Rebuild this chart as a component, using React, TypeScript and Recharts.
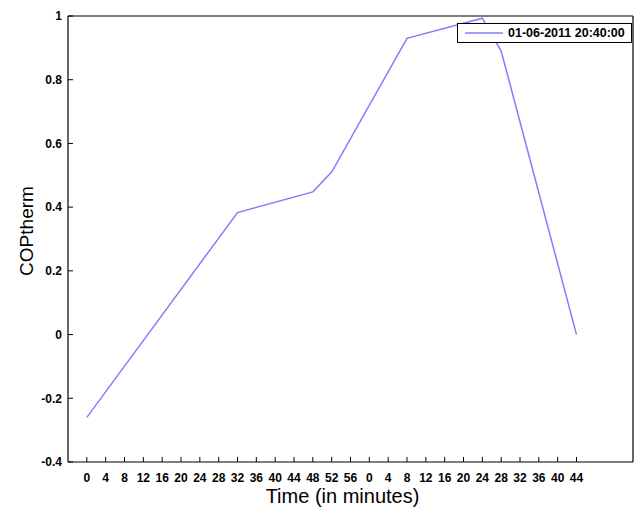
import React from 'react';
import { LineChart, Line, XAxis, YAxis, Legend } from 'recharts';

// elapsed minutes since 20:40 and the COPtherm reading at each kink
const elapsedMinutes = [0, 32, 48, 52, 68, 84, 88, 104];
const copTherm = [-0.26, 0.383, 0.448, 0.51, 0.93, 0.993, 0.89, 0.0];

const timeTicks = [
  0, 4, 8, 12, 16, 20, 24, 28, 32, 36, 40, 44, 48, 52, 56,
  60, 64, 68, 72, 76, 80, 84, 88, 92, 96, 100, 104,
];
const timeTickLabels = [
  '0', '4', '8', '12', '16', '20', '24', '28', '32', '36', '40', '44', '48', '52', '56',
  '0', '4', '8', '12', '16', '20', '24', '28', '32', '36', '40', '44',
];
const copTicks = [-0.4, -0.2, 0, 0.2, 0.4, 0.6, 0.8, 1];

const seriesName = '01-06-2011 20:40:00';
const lineColor = '#7f7fff';
const font = '"Liberation Sans", Arial, Helvetica, sans-serif';

const data = elapsedMinutes.map((m, i) => ({ minute: m, cop: copTherm[i] }));

const tickStyle = { fill: '#000', fontSize: 12, fontWeight: 700, fontFamily: font };
const axisLine = { stroke: '#000', strokeWidth: 1.2 };
const tickLine = { stroke: '#000', strokeWidth: 1 };

const LegendBox = ({ payload }: any) => {
  const item = payload && payload[0];
  return (
    <div
      style={{
        boxSizing: 'border-box',
        width: 175,
        height: 20,
        border: '1px solid #000',
        background: '#fff',
        display: 'flex',
        alignItems: 'center',
        paddingLeft: 7,
        fontFamily: font,
        fontSize: 12.5,
        fontWeight: 700,
        color: '#000',
      }}
    >
      <svg width={38} height={4} style={{ marginRight: 5 }}>
        <line x1={0} y1={2} x2={38} y2={2} stroke={item ? item.color : lineColor} strokeWidth={1.5} />
      </svg>
      <span>{item ? item.value : seriesName}</span>
    </div>
  );
};

export default function App() {
  return (
    <div style={{ position: 'absolute', left: 0, top: 0, width: 638, height: 511, background: '#fff' }}>
      <LineChart width={638} height={511} data={data} margin={{ top: 15, right: 4, bottom: 0, left: 0 }}>
        <XAxis
          xAxisId="bottom"
          type="number"
          dataKey="minute"
          domain={[-4, 116]}
          ticks={timeTicks}
          interval={0}
          tickFormatter={(v: number) => timeTickLabels[timeTicks.indexOf(v)] ?? ''}
          height={49}
          tickSize={-5}
          tickMargin={16}
          tick={tickStyle}
          axisLine={axisLine}
          tickLine={tickLine}
          label={{
            content: ({ viewBox }: any) => (
              <text
                x={viewBox.x + viewBox.width / 2 - 8}
                y={viewBox.y + viewBox.height - 8}
                textAnchor="middle"
                fontFamily={font}
                fontSize={20}
                fill="#000"
              >
                Time (in minutes)
              </text>
            ),
          }}
        />
        <XAxis
          xAxisId="top"
          orientation="top"
          type="number"
          dataKey="minute"
          domain={[-4, 116]}
          ticks={timeTicks}
          interval={0}
          height={1}
          tickSize={-5}
          tick={false}
          axisLine={axisLine}
          tickLine={tickLine}
        />
        <YAxis
          yAxisId="left"
          type="number"
          domain={[-0.4, 1]}
          ticks={copTicks}
          interval={0}
          width={68}
          tickSize={-5}
          tickMargin={11}
          tick={tickStyle}
          tickFormatter={(v: number) => `${Math.round(v * 10) / 10}`}
          axisLine={axisLine}
          tickLine={tickLine}
          label={{
            content: ({ viewBox }: any) => {
              const cx = viewBox.x + 33;
              const cy = viewBox.y + viewBox.height / 2 - 8;
              return (
                <text
                  x={cx}
                  y={cy}
                  transform={`rotate(-90 ${cx} ${cy})`}
                  textAnchor="middle"
                  fontFamily={font}
                  fontSize={19}
                  fill="#000"
                >
                  COPtherm
                </text>
              );
            },
          }}
        />
        <YAxis
          yAxisId="right"
          orientation="right"
          type="number"
          domain={[-0.4, 1]}
          ticks={copTicks}
          interval={0}
          width={1}
          tickSize={-5}
          tick={false}
          axisLine={axisLine}
          tickLine={tickLine}
        />
        <Legend
          layout="horizontal"
          verticalAlign="middle"
          align="center"
          content={<LegendBox />}
          wrapperStyle={{ position: 'absolute', left: 457, top: 23, width: 175, height: 20 }}
        />
        <Line
          xAxisId="bottom"
          yAxisId="left"
          type="linear"
          dataKey="cop"
          name={seriesName}
          stroke={lineColor}
          strokeWidth={1.5}
          dot={false}
          isAnimationActive={false}
        />
      </LineChart>
    </div>
  );
}
